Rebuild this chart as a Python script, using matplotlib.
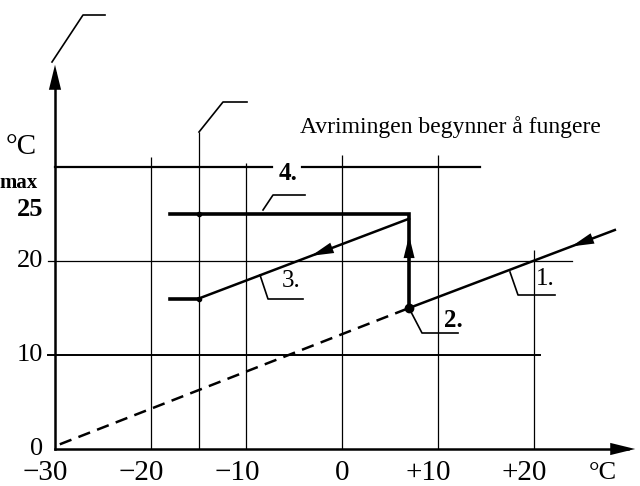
import matplotlib
matplotlib.use("Agg")
import matplotlib.pyplot as plt

# ---- data ----
x_ticks = [-30, -20, -10, 0, 10, 20]
x_labels = ["\u221230", "\u221220", "\u221210", "0", "+10", "+20"]
y_ticks = [0, 10, 20, 25]
y_labels = ["0", "10", "20", "25"]

# curve 2 (dashed) and curve 1 (solid), outdoor temp -> supply temp
line2_t = [-29.5, 7]
line2_y = [0.5, 15]
line1_t = [7, 28.5]
line1_y = [15, 23.3]
# curve 3 (return after defrost)
line3_t = [7, -15, -18]
line3_y = [24.5, 16, 16]
# curve 4 path (thick)
path4_t = [-18, 7, 7]
path4_y = [25, 25, 15]
max_level = 30

# vertical grid lines and their upper ends
grid_t = [-20, -15, -10, 0, 10, 20]
grid_top = [31.1, 33.7, 30.4, 31.3, 31.3, 21.2]

# ---- pixel -> data helper (for annotations only) ----
X0, SX, Y0, SY = 55.0, 9.57, 449.0, 9.4
def P(px, py):
    return ((px - X0) / SX - 30.0, (Y0 - py) / SY)

W, H = 640, 486
fig = plt.figure(figsize=(6.4, 4.86), dpi=100)
ax = fig.add_axes([0, 0, 1, 1])
ax.set_xlim(P(0, 0)[0], P(W, 0)[0])
ax.set_ylim(P(0, H)[1], P(0, 0)[1])
ax.axis("off")

serif = ["Liberation Serif", "DejaVu Serif"]
k = "black"

# grid verticals
for t, top in zip(grid_t, grid_top):
    ax.plot([t, t], [0, top], color=k, lw=0.9, solid_capstyle="butt")

# horizontal lines
xl = P(48, 0)[0]
ax.plot([xl, P(540, 0)[0]], [10, 10], color=k, lw=1.4)
ax.plot([xl, P(572, 0)[0]], [20, 20], color=k, lw=0.9)
ax.plot([-30, P(272, 0)[0]], [max_level, max_level], color=k, lw=1.6)
ax.plot([P(302, 0)[0], P(480, 0)[0]], [max_level, max_level], color=k, lw=1.6)

# axes with arrows
ytop = P(0, 62)[1]
ax.plot([-30, -30], [0, ytop - 1.2], color=k, lw=1.8)
ax.annotate("", xy=(-30, ytop), xytext=(-30, ytop - 2.0),
            arrowprops=dict(arrowstyle="-|>,head_length=0.9,head_width=0.22",
                            color=k, lw=0, mutation_scale=20))
xright = P(638, 0)[0]
ax.plot([-30, xright - 1.0], [0, 0], color=k, lw=1.8)
ax.annotate("", xy=(xright, 0), xytext=(xright - 2.0, 0),
            arrowprops=dict(arrowstyle="-|>,head_length=0.9,head_width=0.22",
                            color=k, lw=0, mutation_scale=20))

# curves
ax.plot(line2_t, line2_y, color=k, lw=1.8, dashes=(5, 3))
ax.plot(line1_t, line1_y, color=k, lw=1.8)
ax.plot(line3_t[:2], line3_y[:2], color=k, lw=1.8)
ax.plot(line3_t[1:], line3_y[1:], color=k, lw=2.6)
ax.plot(path4_t, path4_y, color=k, lw=2.6, solid_joinstyle="miter")
ax.plot([path4_t[-1]], [path4_y[-1]], "o", color=k, ms=6)
ax.plot([line3_t[1]], [line3_y[1]], "o", color=k, ms=3)
ax.plot([path4_t[0] + 3], [path4_y[0]], "o", color=k, ms=3)

# arrowheads on curves
def head(t, y, dt, dy):
    ax.annotate("", xy=(t, y), xytext=(t - dt, y - dy),
                arrowprops=dict(arrowstyle="-|>,head_length=0.9,head_width=0.22",
                                color=k, lw=0, mutation_scale=18))

s1 = (line1_y[1] - line1_y[0]) / (line1_t[1] - line1_t[0])
head(25.2 - 1.5, line1_y[0] + s1 * (25.2 - 1.5 - line1_t[0]), -1.0, -s1)
s3 = (line3_y[1] - line3_y[0]) / (line3_t[1] - line3_t[0])
head(-2.0 - 1.5, line3_y[0] + s3 * (-3.5 - line3_t[0]), -1.0, -s3)
head(7, 23.0, 0, 1.0)

# leaders
def leader(pts):
    d = [P(*p) for p in pts]
    ax.plot([a for a, b in d], [b for a, b in d], color=k, lw=1.2)

leader([(52, 62), (83, 15), (105, 15)])
leader([(199, 132), (223, 102), (247, 102)])
leader([(263, 210), (273, 195), (305, 195)])
leader([(510, 272), (518, 295), (555, 295)])
leader([(410, 310), (422, 333), (458, 333)])
leader([(260, 275), (268, 299), (303, 299)])

def ptext(px, py, s, size, ha="center", va="center", **kw):
    t, y = P(px, py)
    ax.text(t, y, s, fontsize=size, ha=ha, va=va, family=serif, color=k, **kw)

ptext(545, 279, "1.", 18)
ptext(453, 320, "2.", 18, weight="bold")
ptext(291, 281, "3.", 18)
ptext(288, 173, "4.", 18, weight="bold")

# tick labels
ly = P(0, 473)[1]
for t, lab in zip(x_ticks, x_labels):
    off = 1.0 if lab[0] in "\u2212+" else 0.0
    ax.text(t - off, ly, lab, fontsize=21, ha="center", va="center",
            family=serif, color=k)
ptext(603, 473, "\u00b0C", 19)

lx = P(43, 0)[0]
for v, lab in zip(y_ticks, y_labels):
    yy = v if v != 25 else v + 0.5
    ax.text(lx, yy, lab, fontsize=19, ha="right", va="center",
            family=serif, color=k, weight="bold" if v == 25 else "normal")
ptext(37, 147, "\u00b0C", 21, ha="right")
ptext(38, 183, "max", 15, ha="right", weight="bold")

ptext(300, 127, "Avrimingen begynner \u00e5 fungere", 17, ha="left")

fig.savefig("out.png", dpi=100)
